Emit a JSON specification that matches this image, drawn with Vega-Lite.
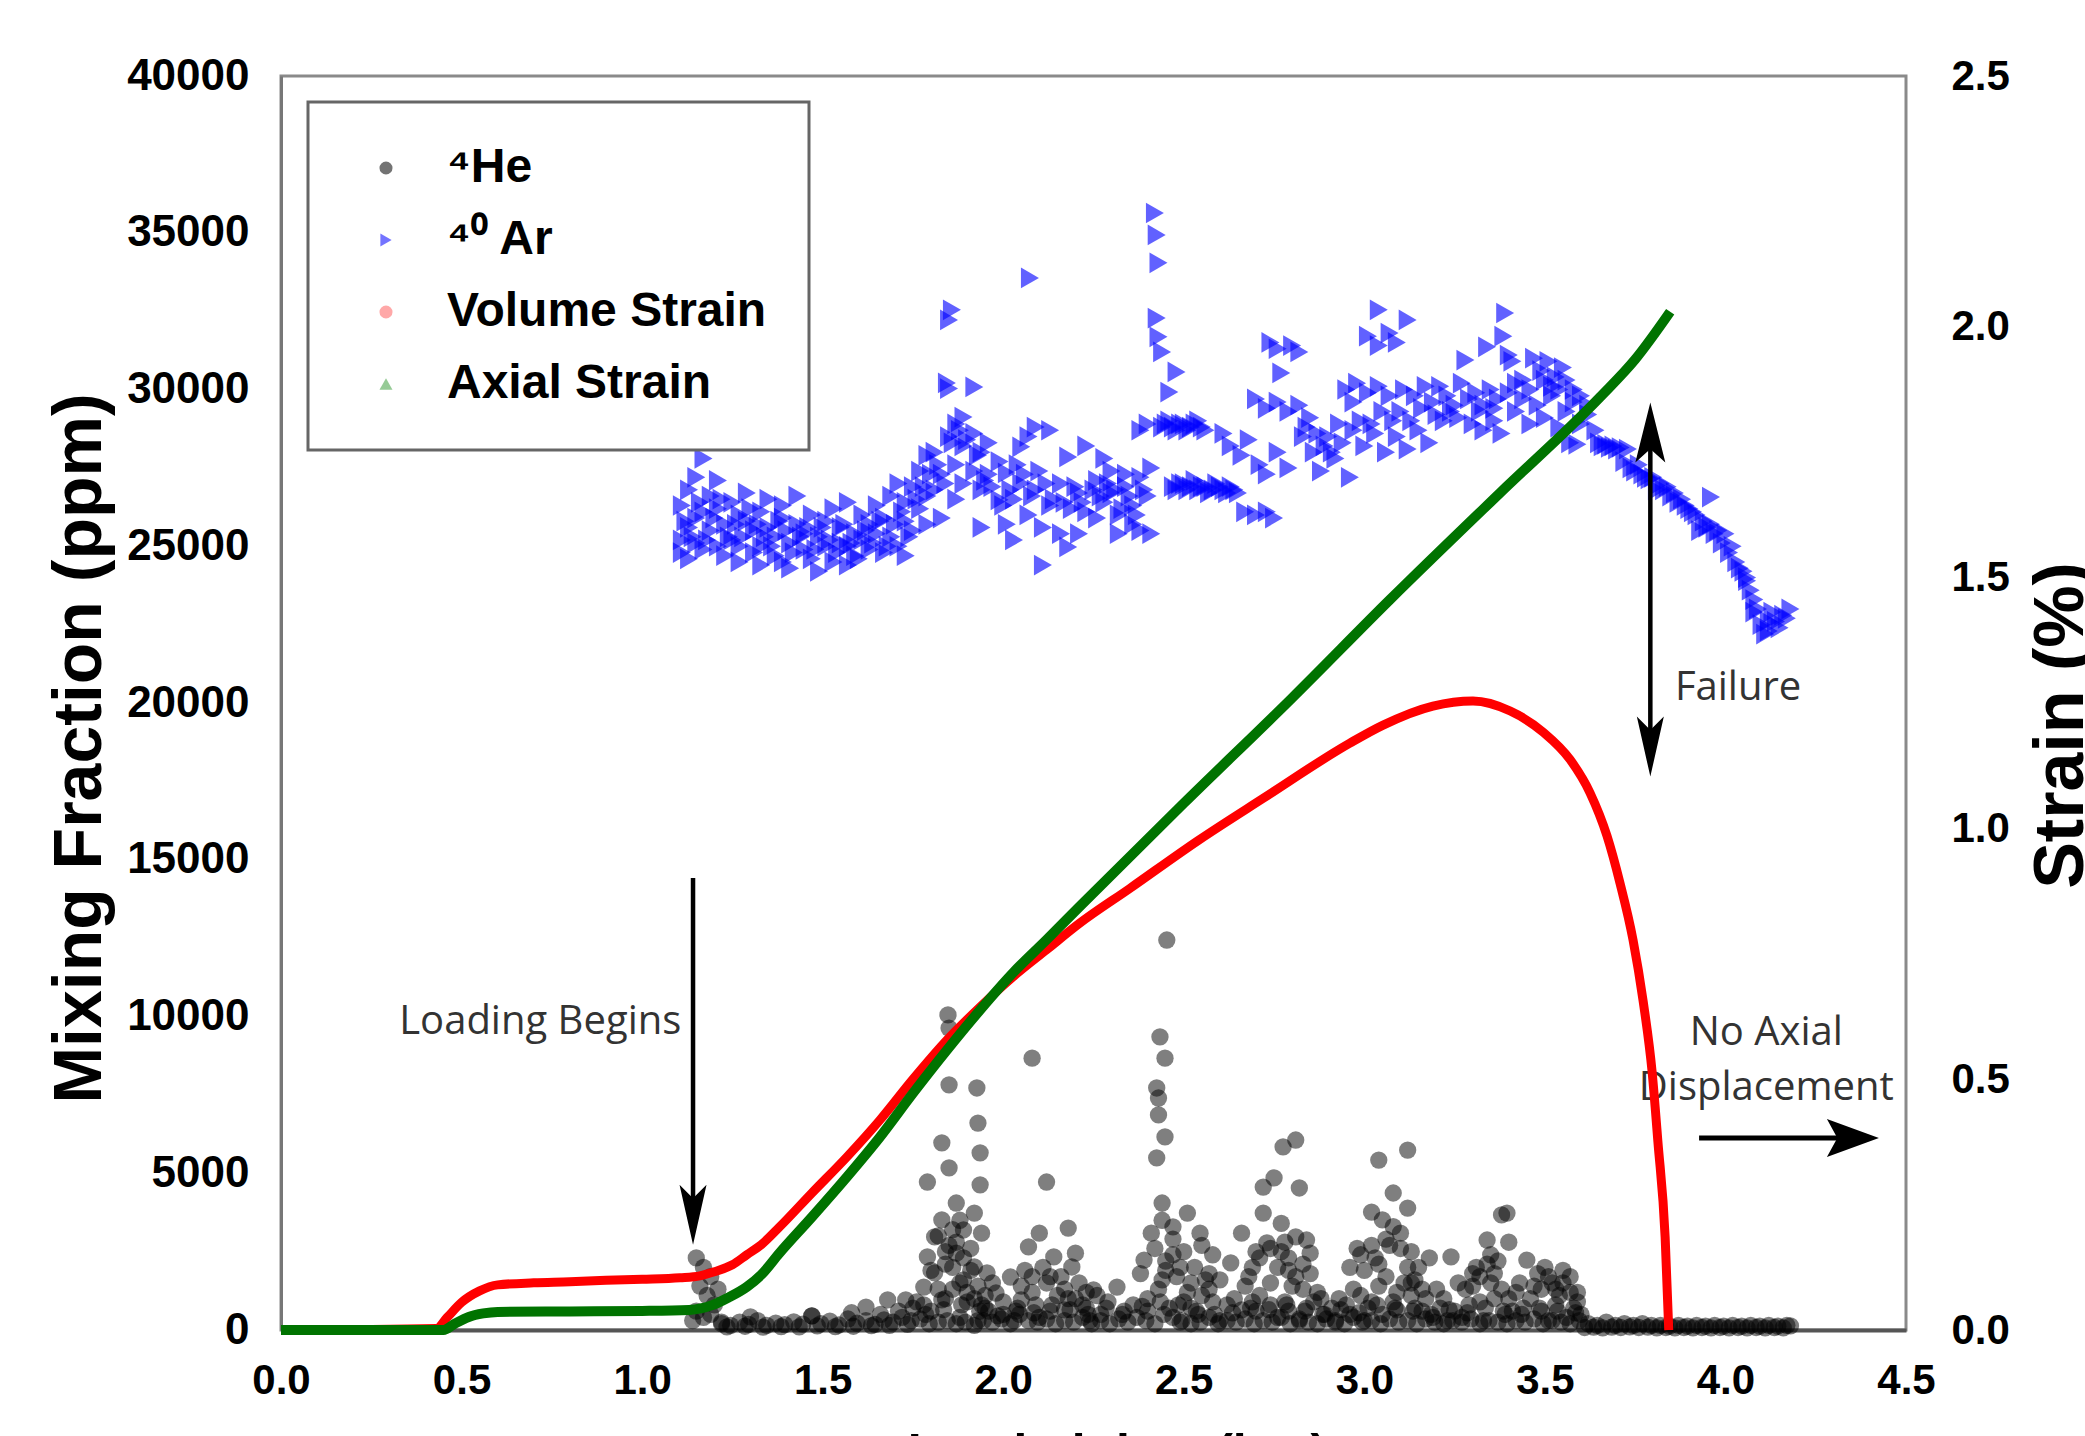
{
"$schema": "https://vega.github.io/schema/vega-lite/v6.json",
"width": 1625, "height": 1254,
"autosize": {"type": "none"},
"padding": {"left": 281, "top": 76, "right": 179, "bottom": 106},
"background": "white",
"config": {
  "view": {"stroke": "#8a8a8a", "strokeWidth": 3},
  "axisX": {"grid": false, "ticks": false, "domain": true, "domainColor": "#555555", "domainWidth": 4,
    "labelFont": "Liberation Sans, Arial", "labelFontWeight": "bold", "labelFontSize": 42, "labelColor": "black", "labelPadding": 30, "labelFlush": false, "labelOverlap": false,
    "titleFont": "Liberation Sans, Arial", "titleFontWeight": "bold", "titleFontSize": 50, "titleColor": "black", "titlePadding": 12},
  "legend": {
    "orient": "none", "legendX": 27, "legendY": 26,
    "labelFont": "Liberation Sans, Arial", "labelFontWeight": "bold", "labelFontSize": 48, "labelColor": "black",
    "symbolSize": 170, "symbolOpacity": 0.55, "symbolStrokeWidth": 0,
    "padding": 42, "rowPadding": 24, "symbolOffset": 12, "labelOffset": 37,
    "strokeColor": "#666666", "strokeWidth": 3, "fillColor": "white", "labelLimit": 600
  }
},
"datasets": {
"he": [
{"s":"He","t":1.15,"v":2300},{"s":"He","t":1.17,"v":2000},{"s":"He","t":1.19,"v":1700},{"s":"He","t":1.16,"v":1400},{"s":"He","t":1.18,"v":1100},{"s":"He","t":1.2,"v":800},{"s":"He","t":1.15,"v":600},{"s":"He","t":1.17,"v":400},{"s":"He","t":1.21,"v":1300},{"s":"He","t":1.19,"v":500},{"s":"He","t":1.22,"v":250},{"s":"He","t":1.14,"v":300},
{"s":"He","t":1.22,"v":200},{"s":"He","t":1.245,"v":150},{"s":"He","t":1.27,"v":250},{"s":"He","t":1.295,"v":180},{"s":"He","t":1.32,"v":300},{"s":"He","t":1.345,"v":150},{"s":"He","t":1.37,"v":220},{"s":"He","t":1.395,"v":170},{"s":"He","t":1.42,"v":260},{"s":"He","t":1.445,"v":190},{"s":"He","t":1.47,"v":450},{"s":"He","t":1.495,"v":200},{"s":"He","t":1.52,"v":280},{"s":"He","t":1.545,"v":160},{"s":"He","t":1.57,"v":350},{"s":"He","t":1.595,"v":220},{"s":"He","t":1.62,"v":300},{"s":"He","t":1.645,"v":180},{"s":"He","t":1.67,"v":320},{"s":"He","t":1.695,"v":250},{"s":"He","t":1.72,"v":400},{"s":"He","t":1.745,"v":300},{"s":"He","t":1.77,"v":350},{"s":"He","t":1.795,"v":200},{"s":"He","t":1.82,"v":250},{"s":"He","t":1.845,"v":300},{"s":"He","t":1.87,"v":200},{"s":"He","t":1.895,"v":250},{"s":"He","t":1.92,"v":150},{"s":"He","t":1.945,"v":300},{"s":"He","t":1.97,"v":250},{"s":"He","t":1.995,"v":350},{"s":"He","t":2.02,"v":200},{"s":"He","t":2.045,"v":500},{"s":"He","t":2.07,"v":300},{"s":"He","t":2.095,"v":250},{"s":"He","t":2.12,"v":350},{"s":"He","t":2.145,"v":200},{"s":"He","t":2.17,"v":300},{"s":"He","t":2.195,"v":250},{"s":"He","t":2.22,"v":400},{"s":"He","t":2.245,"v":200},{"s":"He","t":2.27,"v":300},{"s":"He","t":2.295,"v":200},{"s":"He","t":2.32,"v":350},{"s":"He","t":2.345,"v":250},{"s":"He","t":2.37,"v":400},{"s":"He","t":2.395,"v":300},{"s":"He","t":2.42,"v":200},{"s":"He","t":2.445,"v":500},{"s":"He","t":2.47,"v":400},{"s":"He","t":2.495,"v":300},{"s":"He","t":2.52,"v":200},{"s":"He","t":2.545,"v":250},{"s":"He","t":2.57,"v":400},{"s":"He","t":2.595,"v":200},{"s":"He","t":2.62,"v":300},{"s":"He","t":2.645,"v":250},{"s":"He","t":2.67,"v":350},{"s":"He","t":2.695,"v":200},{"s":"He","t":2.72,"v":300},{"s":"He","t":2.745,"v":250},{"s":"He","t":2.77,"v":400},{"s":"He","t":2.795,"v":200},{"s":"He","t":2.82,"v":300},{"s":"He","t":2.845,"v":250},{"s":"He","t":2.87,"v":200},{"s":"He","t":2.895,"v":350},{"s":"He","t":2.92,"v":250},{"s":"He","t":2.945,"v":200},{"s":"He","t":2.97,"v":400},{"s":"He","t":2.995,"v":250},{"s":"He","t":3.02,"v":300},{"s":"He","t":3.045,"v":200},{"s":"He","t":3.07,"v":350},{"s":"He","t":3.095,"v":250},{"s":"He","t":3.12,"v":300},{"s":"He","t":3.145,"v":200},{"s":"He","t":3.17,"v":350},{"s":"He","t":3.195,"v":250},{"s":"He","t":3.22,"v":200},{"s":"He","t":3.245,"v":300},{"s":"He","t":3.27,"v":250},{"s":"He","t":3.295,"v":350},{"s":"He","t":3.32,"v":200},{"s":"He","t":3.345,"v":300},{"s":"He","t":3.37,"v":250},{"s":"He","t":3.395,"v":200},{"s":"He","t":3.42,"v":300},{"s":"He","t":3.445,"v":250},{"s":"He","t":3.47,"v":350},{"s":"He","t":3.495,"v":200},{"s":"He","t":3.52,"v":300},{"s":"He","t":3.545,"v":250},{"s":"He","t":3.57,"v":200},{"s":"He","t":3.595,"v":300},{"s":"He","t":3.62,"v":200},{"s":"He","t":3.645,"v":150},{"s":"He","t":3.67,"v":250},{"s":"He","t":3.695,"v":150},{"s":"He","t":3.72,"v":200},{"s":"He","t":3.745,"v":150},{"s":"He","t":3.77,"v":200},{"s":"He","t":3.795,"v":150},{"s":"He","t":3.82,"v":150},{"s":"He","t":3.845,"v":120},{"s":"He","t":3.87,"v":150},{"s":"He","t":3.895,"v":120},{"s":"He","t":3.92,"v":150},{"s":"He","t":3.945,"v":120},{"s":"He","t":3.97,"v":150},{"s":"He","t":3.995,"v":120},{"s":"He","t":4.02,"v":150},{"s":"He","t":4.045,"v":120},{"s":"He","t":4.07,"v":150},{"s":"He","t":4.095,"v":120},{"s":"He","t":4.12,"v":150},{"s":"He","t":4.145,"v":120},{"s":"He","t":4.17,"v":150},{"s":"He","t":4.18,"v":130},
{"s":"He","t":1.235,"v":100},{"s":"He","t":1.285,"v":120},{"s":"He","t":1.335,"v":90},{"s":"He","t":1.385,"v":110},{"s":"He","t":1.435,"v":100},{"s":"He","t":1.485,"v":130},{"s":"He","t":1.535,"v":110},{"s":"He","t":1.585,"v":120},{"s":"He","t":1.635,"v":140},{"s":"He","t":1.685,"v":150},{"s":"He","t":1.735,"v":180},{"s":"He","t":1.785,"v":500},{"s":"He","t":1.835,"v":650},{"s":"He","t":1.885,"v":800},{"s":"He","t":1.935,"v":600},{"s":"He","t":1.985,"v":450},{"s":"He","t":2.035,"v":600},{"s":"He","t":2.085,"v":550},{"s":"He","t":2.135,"v":800},{"s":"He","t":2.185,"v":650},{"s":"He","t":2.235,"v":500},{"s":"He","t":2.285,"v":700},{"s":"He","t":2.335,"v":600},{"s":"He","t":2.385,"v":750},{"s":"He","t":2.435,"v":900},{"s":"He","t":2.485,"v":800},{"s":"He","t":2.535,"v":600},{"s":"He","t":2.585,"v":500},{"s":"He","t":2.635,"v":550},{"s":"He","t":2.685,"v":700},{"s":"He","t":2.735,"v":650},{"s":"He","t":2.785,"v":800},{"s":"He","t":2.835,"v":600},{"s":"He","t":2.885,"v":500},{"s":"He","t":2.935,"v":650},{"s":"He","t":2.985,"v":550},{"s":"He","t":3.035,"v":800},{"s":"He","t":3.085,"v":700},{"s":"He","t":3.135,"v":600},{"s":"He","t":3.185,"v":500},{"s":"He","t":3.235,"v":650},{"s":"He","t":3.285,"v":550},{"s":"He","t":3.335,"v":700},{"s":"He","t":3.385,"v":600},{"s":"He","t":3.435,"v":500},{"s":"He","t":3.485,"v":700},{"s":"He","t":3.535,"v":600},{"s":"He","t":3.585,"v":550},
{"s":"He","t":3.61,"v":80},{"s":"He","t":3.635,"v":90},{"s":"He","t":3.66,"v":70},{"s":"He","t":3.685,"v":90},{"s":"He","t":3.71,"v":80},{"s":"He","t":3.735,"v":100},{"s":"He","t":3.76,"v":80},{"s":"He","t":3.785,"v":90},{"s":"He","t":3.81,"v":70},{"s":"He","t":3.835,"v":80},{"s":"He","t":3.86,"v":70},{"s":"He","t":3.885,"v":80},{"s":"He","t":3.91,"v":70},{"s":"He","t":3.935,"v":80},{"s":"He","t":3.96,"v":70},{"s":"He","t":3.985,"v":80},{"s":"He","t":4.01,"v":70},{"s":"He","t":4.035,"v":80},{"s":"He","t":4.06,"v":70},{"s":"He","t":4.085,"v":80},{"s":"He","t":4.11,"v":70},{"s":"He","t":4.135,"v":80},{"s":"He","t":4.16,"v":70},
{"s":"He","t":1.30,"v":420},{"s":"He","t":1.47,"v":450},{"s":"He","t":1.58,"v":550},{"s":"He","t":1.62,"v":730},{"s":"He","t":1.68,"v":960},{"s":"He","t":1.73,"v":960},{"s":"He","t":1.66,"v":500},{"s":"He","t":1.71,"v":600},{"s":"He","t":1.75,"v":700},
{"s":"He","t":1.847,"v":10050},{"s":"He","t":1.85,"v":9630},{"s":"He","t":1.85,"v":7820},{"s":"He","t":1.927,"v":7720},{"s":"He","t":1.93,"v":6600},{"s":"He","t":1.83,"v":5970},{"s":"He","t":1.936,"v":5650},{"s":"He","t":1.85,"v":5170},{"s":"He","t":1.79,"v":4720},{"s":"He","t":1.936,"v":4630},{"s":"He","t":1.87,"v":4050},{"s":"He","t":1.92,"v":3730},{"s":"He","t":1.83,"v":3510},{"s":"He","t":1.89,"v":3190},{"s":"He","t":1.81,"v":2970},{"s":"He","t":1.94,"v":3090},{"s":"He","t":1.79,"v":2330},{"s":"He","t":1.87,"v":2450},{"s":"He","t":1.92,"v":2010},{"s":"He","t":1.81,"v":1820},{"s":"He","t":1.955,"v":1820},{"s":"He","t":1.89,"v":1600},{"s":"He","t":1.78,"v":1370},{"s":"He","t":1.83,"v":960},{"s":"He","t":1.98,"v":1180},{"s":"He","t":1.86,"v":1300},{"s":"He","t":1.90,"v":900},{"s":"He","t":1.95,"v":700},{"s":"He","t":1.80,"v":600},{"s":"He","t":1.88,"v":400},{"s":"He","t":1.93,"v":300},{"s":"He","t":1.85,"v":2700},{"s":"He","t":1.91,"v":2600},{"s":"He","t":1.84,"v":2100},{"s":"He","t":1.88,"v":3500},{"s":"He","t":1.97,"v":1500},{"s":"He","t":1.76,"v":900},
{"s":"He","t":1.82,"v":3000},{"s":"He","t":1.84,"v":2500},{"s":"He","t":1.86,"v":2000},{"s":"He","t":1.88,"v":1500},{"s":"He","t":1.90,"v":1200},{"s":"He","t":1.92,"v":1000},{"s":"He","t":1.94,"v":800},{"s":"He","t":1.86,"v":3200},{"s":"He","t":1.87,"v":2800},{"s":"He","t":1.89,"v":2300},{"s":"He","t":1.91,"v":1900},{"s":"He","t":1.93,"v":1400},{"s":"He","t":1.95,"v":1100},{"s":"He","t":1.82,"v":1300},{"s":"He","t":1.84,"v":1000},{"s":"He","t":1.80,"v":1900},{"s":"He","t":1.78,"v":800},
{"s":"He","t":2.08,"v":8670},{"s":"He","t":2.12,"v":4720},{"s":"He","t":2.18,"v":3250},{"s":"He","t":2.10,"v":3090},{"s":"He","t":2.07,"v":2650},{"s":"He","t":2.20,"v":2450},{"s":"He","t":2.14,"v":2330},{"s":"He","t":2.02,"v":1690},{"s":"He","t":2.12,"v":1500},{"s":"He","t":2.19,"v":2010},{"s":"He","t":2.25,"v":1280},{"s":"He","t":2.05,"v":960},{"s":"He","t":2.17,"v":640},{"s":"He","t":2.0,"v":500},{"s":"He","t":2.03,"v":300},{"s":"He","t":2.08,"v":1200},{"s":"He","t":2.15,"v":1100},{"s":"He","t":2.22,"v":800},{"s":"He","t":2.27,"v":500},{"s":"He","t":2.29,"v":900},{"s":"He","t":2.24,"v":300},{"s":"He","t":2.10,"v":400},{"s":"He","t":2.06,"v":1900},{"s":"He","t":2.16,"v":1700},{"s":"He","t":2.21,"v":1500},
{"s":"He","t":2.05,"v":1400},{"s":"He","t":2.08,"v":1700},{"s":"He","t":2.11,"v":2000},{"s":"He","t":2.13,"v":1700},{"s":"He","t":2.17,"v":1300},{"s":"He","t":2.20,"v":1000},{"s":"He","t":2.23,"v":1200},
{"s":"He","t":2.315,"v":1370},{"s":"He","t":2.39,"v":2230},{"s":"He","t":2.38,"v":1800},{"s":"He","t":2.40,"v":1000},
{"s":"He","t":2.453,"v":12440},{"s":"He","t":2.434,"v":9350},{"s":"He","t":2.448,"v":8670},{"s":"He","t":2.425,"v":7720},{"s":"He","t":2.43,"v":7400},{"s":"He","t":2.43,"v":6860},{"s":"He","t":2.448,"v":6160},{"s":"He","t":2.425,"v":5490},{"s":"He","t":2.44,"v":4050},{"s":"He","t":2.51,"v":3730},{"s":"He","t":2.41,"v":3090},{"s":"He","t":2.47,"v":3290},
{"s":"He","t":2.44,"v":3500},{"s":"He","t":2.47,"v":2900},{"s":"He","t":2.50,"v":2500},{"s":"He","t":2.45,"v":2200},{"s":"He","t":2.53,"v":2000},{"s":"He","t":2.48,"v":1700},{"s":"He","t":2.56,"v":1600},{"s":"He","t":2.51,"v":1200},{"s":"He","t":2.43,"v":1300},{"s":"He","t":2.58,"v":900},{"s":"He","t":2.46,"v":700},{"s":"He","t":2.54,"v":500},{"s":"He","t":2.60,"v":300},{"s":"He","t":2.49,"v":250},{"s":"He","t":2.55,"v":2700},{"s":"He","t":2.58,"v":2400},{"s":"He","t":2.42,"v":2600},{"s":"He","t":2.545,"v":3090},{"s":"He","t":2.63,"v":2140},{"s":"He","t":2.60,"v":1600},
{"s":"He","t":2.45,"v":1900},{"s":"He","t":2.47,"v":2400},{"s":"He","t":2.49,"v":2000},{"s":"He","t":2.52,"v":1500},{"s":"He","t":2.55,"v":1100},{"s":"He","t":2.57,"v":1800},{"s":"He","t":2.50,"v":900},{"s":"He","t":2.44,"v":1600},
{"s":"He","t":2.775,"v":5840},{"s":"He","t":2.81,"v":6060},{"s":"He","t":2.75,"v":4850},{"s":"He","t":2.72,"v":4560},{"s":"He","t":2.82,"v":4530},{"s":"He","t":2.72,"v":3730},{"s":"He","t":2.66,"v":3090},{"s":"He","t":2.73,"v":2780},{"s":"He","t":2.81,"v":2970},{"s":"He","t":2.77,"v":3400},{"s":"He","t":2.70,"v":2500},{"s":"He","t":2.79,"v":2300},{"s":"He","t":2.76,"v":2000},{"s":"He","t":2.83,"v":2100},{"s":"He","t":2.68,"v":1700},{"s":"He","t":2.74,"v":1500},{"s":"He","t":2.80,"v":1400},{"s":"He","t":2.85,"v":1800},{"s":"He","t":2.87,"v":1200},{"s":"He","t":2.71,"v":1100},{"s":"He","t":2.78,"v":900},{"s":"He","t":2.84,"v":700},{"s":"He","t":2.89,"v":500},{"s":"He","t":2.92,"v":300},{"s":"He","t":2.76,"v":400},{"s":"He","t":2.70,"v":600},{"s":"He","t":2.82,"v":350},{"s":"He","t":2.88,"v":1000},{"s":"He","t":2.64,"v":1000},{"s":"He","t":2.84,"v":2870},{"s":"He","t":2.85,"v":2450},{"s":"He","t":2.66,"v":640},
{"s":"He","t":2.69,"v":2000},{"s":"He","t":2.71,"v":2300},{"s":"He","t":2.74,"v":2600},{"s":"He","t":2.77,"v":2500},{"s":"He","t":2.79,"v":1900},{"s":"He","t":2.81,"v":1700},{"s":"He","t":2.83,"v":1300},{"s":"He","t":2.78,"v":2800},
{"s":"He","t":3.04,"v":5420},{"s":"He","t":3.12,"v":5740},{"s":"He","t":3.08,"v":4370},{"s":"He","t":3.02,"v":3760},{"s":"He","t":3.12,"v":3890},{"s":"He","t":3.05,"v":3510},{"s":"He","t":3.10,"v":3090},{"s":"He","t":2.98,"v":2600},{"s":"He","t":3.03,"v":2300},{"s":"He","t":3.07,"v":2700},{"s":"He","t":3.13,"v":2500},{"s":"He","t":3.15,"v":2000},{"s":"He","t":3.00,"v":1900},{"s":"He","t":3.06,"v":1700},{"s":"He","t":3.11,"v":1500},{"s":"He","t":2.97,"v":1300},{"s":"He","t":3.09,"v":1200},{"s":"He","t":3.17,"v":1000},{"s":"He","t":3.02,"v":900},{"s":"He","t":3.14,"v":700},{"s":"He","t":3.05,"v":500},{"s":"He","t":3.19,"v":400},{"s":"He","t":3.00,"v":300},{"s":"He","t":3.20,"v":1300},{"s":"He","t":3.18,"v":2300},{"s":"He","t":2.95,"v":800},{"s":"He","t":2.99,"v":1100},{"s":"He","t":3.13,"v":1500},{"s":"He","t":3.09,"v":640},
{"s":"He","t":2.96,"v":2000},{"s":"He","t":2.99,"v":2400},{"s":"He","t":3.02,"v":2700},{"s":"He","t":3.04,"v":2100},{"s":"He","t":3.06,"v":2900},{"s":"He","t":3.08,"v":3300},{"s":"He","t":3.10,"v":2600},{"s":"He","t":3.12,"v":2000},{"s":"He","t":3.14,"v":1600},{"s":"He","t":3.16,"v":1300},{"s":"He","t":3.04,"v":1400},
{"s":"He","t":3.24,"v":2330},{"s":"He","t":3.34,"v":2870},{"s":"He","t":3.38,"v":3670},{"s":"He","t":3.395,"v":3730},{"s":"He","t":3.40,"v":2800},{"s":"He","t":3.22,"v":1000},{"s":"He","t":3.25,"v":600},{"s":"He","t":3.28,"v":1300},{"s":"He","t":3.30,"v":1800},{"s":"He","t":3.32,"v":900},{"s":"He","t":3.35,"v":1500},{"s":"He","t":3.37,"v":2200},{"s":"He","t":3.42,"v":1200},{"s":"He","t":3.44,"v":700},{"s":"He","t":3.27,"v":400},{"s":"He","t":3.33,"v":300},{"s":"He","t":3.39,"v":500},{"s":"He","t":3.23,"v":300},{"s":"He","t":3.26,"v":1500},{"s":"He","t":3.31,"v":2000},
{"s":"He","t":3.30,"v":1400},{"s":"He","t":3.32,"v":1700},{"s":"He","t":3.34,"v":2100},{"s":"He","t":3.36,"v":1800},{"s":"He","t":3.38,"v":1300},{"s":"He","t":3.40,"v":1000},{"s":"He","t":3.35,"v":2400},
{"s":"He","t":3.45,"v":2230},{"s":"He","t":3.48,"v":1800},{"s":"He","t":3.50,"v":2000},{"s":"He","t":3.52,"v":1500},{"s":"He","t":3.55,"v":1900},{"s":"He","t":3.57,"v":1200},{"s":"He","t":3.46,"v":1000},{"s":"He","t":3.49,"v":600},{"s":"He","t":3.53,"v":800},{"s":"He","t":3.56,"v":400},{"s":"He","t":3.58,"v":700},{"s":"He","t":3.51,"v":300},{"s":"He","t":3.54,"v":1100},{"s":"He","t":3.47,"v":1400},
{"s":"He","t":3.49,"v":1300},{"s":"He","t":3.51,"v":1700},{"s":"He","t":3.53,"v":1300},{"s":"He","t":3.55,"v":1500},{"s":"He","t":3.57,"v":1700},{"s":"He","t":3.59,"v":1200},
{"s":"He","t":1.96,"v":600},{"s":"He","t":2.0,"v":900},{"s":"He","t":2.04,"v":700},{"s":"He","t":2.09,"v":800},{"s":"He","t":2.13,"v":600},{"s":"He","t":2.18,"v":1000},{"s":"He","t":2.23,"v":700},{"s":"He","t":2.26,"v":1100},{"s":"He","t":2.33,"v":500},{"s":"He","t":2.36,"v":800},{"s":"He","t":2.40,"v":600},{"s":"He","t":2.52,"v":700},{"s":"He","t":2.57,"v":1300},{"s":"He","t":2.62,"v":800},{"s":"He","t":2.67,"v":1400},{"s":"He","t":2.69,"v":900},{"s":"He","t":2.74,"v":800},{"s":"He","t":2.79,"v":600},{"s":"He","t":2.86,"v":900},{"s":"He","t":2.91,"v":700},{"s":"He","t":2.93,"v":1000},{"s":"He","t":2.96,"v":500},{"s":"He","t":3.01,"v":700},{"s":"He","t":3.08,"v":900},{"s":"He","t":3.13,"v":1100},{"s":"He","t":3.16,"v":600},{"s":"He","t":3.21,"v":700},{"s":"He","t":3.29,"v":800},{"s":"He","t":3.36,"v":1000},{"s":"He","t":3.41,"v":600},{"s":"He","t":3.43,"v":1500},{"s":"He","t":3.60,"v":500},{"s":"He","t":3.59,"v":900}
],
"ar": [
{"s":"Ar","t":1.11,"v":25200},{"s":"Ar","t":1.11,"v":26300},{"s":"Ar","t":1.11,"v":24800},{"s":"Ar","t":1.13,"v":26800},{"s":"Ar","t":1.13,"v":25600},{"s":"Ar","t":1.13,"v":24600},{"s":"Ar","t":1.15,"v":25900},{"s":"Ar","t":1.15,"v":27200},{"s":"Ar","t":1.15,"v":25100},{"s":"Ar","t":1.17,"v":27800},{"s":"Ar","t":1.17,"v":26100},{"s":"Ar","t":1.17,"v":24900},{"s":"Ar","t":1.19,"v":25500},{"s":"Ar","t":1.19,"v":26600},{"s":"Ar","t":1.21,"v":26200},{"s":"Ar","t":1.21,"v":25000},{"s":"Ar","t":1.21,"v":27100},{"s":"Ar","t":1.23,"v":25700},{"s":"Ar","t":1.23,"v":24700},{"s":"Ar","t":1.25,"v":26400},{"s":"Ar","t":1.25,"v":25200},{"s":"Ar","t":1.27,"v":25000},{"s":"Ar","t":1.27,"v":26000},{"s":"Ar","t":1.27,"v":24500},{"s":"Ar","t":1.29,"v":25800},{"s":"Ar","t":1.29,"v":26700},{"s":"Ar","t":1.31,"v":24800},{"s":"Ar","t":1.31,"v":25500},{"s":"Ar","t":1.33,"v":26100},{"s":"Ar","t":1.33,"v":25000},{"s":"Ar","t":1.33,"v":24400},{"s":"Ar","t":1.35,"v":25600},{"s":"Ar","t":1.35,"v":26500},{"s":"Ar","t":1.37,"v":24700},{"s":"Ar","t":1.37,"v":25300},{"s":"Ar","t":1.39,"v":25900},{"s":"Ar","t":1.39,"v":24500},{"s":"Ar","t":1.39,"v":26300},{"s":"Ar","t":1.41,"v":25100},{"s":"Ar","t":1.41,"v":24300},{"s":"Ar","t":1.43,"v":25700},{"s":"Ar","t":1.43,"v":26600},{"s":"Ar","t":1.45,"v":24900},{"s":"Ar","t":1.45,"v":25400},{"s":"Ar","t":1.47,"v":24600},{"s":"Ar","t":1.47,"v":26000},{"s":"Ar","t":1.49,"v":25300},{"s":"Ar","t":1.49,"v":24200},{"s":"Ar","t":1.51,"v":25800},{"s":"Ar","t":1.51,"v":25000},{"s":"Ar","t":1.53,"v":24500},{"s":"Ar","t":1.53,"v":26200},{"s":"Ar","t":1.55,"v":25100},{"s":"Ar","t":1.55,"v":25600},{"s":"Ar","t":1.57,"v":24400},{"s":"Ar","t":1.57,"v":26400},{"s":"Ar","t":1.57,"v":25000},{"s":"Ar","t":1.59,"v":25400},{"s":"Ar","t":1.59,"v":24700},{"s":"Ar","t":1.61,"v":26000},{"s":"Ar","t":1.61,"v":25200},{"s":"Ar","t":1.63,"v":24900},{"s":"Ar","t":1.63,"v":25700},{"s":"Ar","t":1.65,"v":25400},{"s":"Ar","t":1.65,"v":26300},{"s":"Ar","t":1.67,"v":24800},{"s":"Ar","t":1.67,"v":25900},{"s":"Ar","t":1.69,"v":26600},{"s":"Ar","t":1.69,"v":25300},{"s":"Ar","t":1.71,"v":25000},{"s":"Ar","t":1.71,"v":27000},{"s":"Ar","t":1.73,"v":25800},{"s":"Ar","t":1.73,"v":26400},{"s":"Ar","t":1.73,"v":24700},{"s":"Ar","t":1.75,"v":26900},{"s":"Ar","t":1.75,"v":25500},{"s":"Ar","t":1.77,"v":27400},{"s":"Ar","t":1.77,"v":26200},{"s":"Ar","t":1.79,"v":25700},{"s":"Ar","t":1.79,"v":27900},{"s":"Ar","t":1.79,"v":26600},{"s":"Ar","t":1.81,"v":26800},{"s":"Ar","t":1.81,"v":28000},{"s":"Ar","t":1.83,"v":27300},{"s":"Ar","t":1.83,"v":25900},
{"s":"Ar","t":1.12,"v":25800},{"s":"Ar","t":1.14,"v":25300},{"s":"Ar","t":1.16,"v":26400},{"s":"Ar","t":1.18,"v":25200},{"s":"Ar","t":1.20,"v":25900},{"s":"Ar","t":1.22,"v":26500},{"s":"Ar","t":1.24,"v":25300},{"s":"Ar","t":1.26,"v":25700},{"s":"Ar","t":1.28,"v":25300},{"s":"Ar","t":1.30,"v":26200},{"s":"Ar","t":1.32,"v":25700},{"s":"Ar","t":1.34,"v":25300},{"s":"Ar","t":1.36,"v":25000},{"s":"Ar","t":1.38,"v":25800},{"s":"Ar","t":1.40,"v":25500},{"s":"Ar","t":1.42,"v":24800},{"s":"Ar","t":1.44,"v":25300},{"s":"Ar","t":1.46,"v":25600},{"s":"Ar","t":1.48,"v":24900},{"s":"Ar","t":1.50,"v":25600},{"s":"Ar","t":1.52,"v":25200},{"s":"Ar","t":1.54,"v":24800},{"s":"Ar","t":1.56,"v":25700},{"s":"Ar","t":1.58,"v":25100},{"s":"Ar","t":1.60,"v":24600},{"s":"Ar","t":1.62,"v":25500},{"s":"Ar","t":1.64,"v":25100},{"s":"Ar","t":1.66,"v":25800},{"s":"Ar","t":1.68,"v":25000},{"s":"Ar","t":1.70,"v":25700},{"s":"Ar","t":1.72,"v":26100},{"s":"Ar","t":1.74,"v":25300},{"s":"Ar","t":1.76,"v":26500},{"s":"Ar","t":1.78,"v":26900},{"s":"Ar","t":1.80,"v":27300},{"s":"Ar","t":1.82,"v":27600},{"s":"Ar","t":1.84,"v":27000},
{"s":"Ar","t":1.85,"v":30030},{"s":"Ar","t":1.85,"v":32220},{"s":"Ar","t":1.858,"v":32540},{"s":"Ar","t":1.844,"v":30210},{"s":"Ar","t":1.85,"v":28500},{"s":"Ar","t":1.87,"v":28900},{"s":"Ar","t":1.87,"v":27600},{"s":"Ar","t":1.87,"v":26500},{"s":"Ar","t":1.89,"v":29120},{"s":"Ar","t":1.89,"v":28200},{"s":"Ar","t":1.89,"v":27000},{"s":"Ar","t":1.92,"v":30080},{"s":"Ar","t":1.92,"v":28600},{"s":"Ar","t":1.92,"v":27400},{"s":"Ar","t":1.94,"v":28000},{"s":"Ar","t":1.94,"v":26800},{"s":"Ar","t":1.94,"v":25600},{"s":"Ar","t":1.96,"v":27300},{"s":"Ar","t":1.96,"v":28300},{"s":"Ar","t":1.99,"v":26480},{"s":"Ar","t":1.99,"v":27700},{"s":"Ar","t":2.01,"v":27340},{"s":"Ar","t":2.01,"v":25700},{"s":"Ar","t":2.03,"v":25200},{"s":"Ar","t":2.03,"v":26500},{"s":"Ar","t":2.05,"v":28170},{"s":"Ar","t":2.05,"v":27000},{"s":"Ar","t":2.07,"v":28500},{"s":"Ar","t":2.07,"v":26000},{"s":"Ar","t":2.074,"v":33560},{"s":"Ar","t":2.09,"v":26800},{"s":"Ar","t":2.09,"v":28800},{"s":"Ar","t":2.10,"v":27400},{"s":"Ar","t":2.11,"v":24400},{"s":"Ar","t":2.11,"v":25600},{"s":"Ar","t":2.13,"v":28700},{"s":"Ar","t":2.13,"v":26300},{"s":"Ar","t":2.16,"v":27000},{"s":"Ar","t":2.16,"v":25400},{"s":"Ar","t":2.18,"v":24980},{"s":"Ar","t":2.18,"v":27850},{"s":"Ar","t":2.19,"v":26200},{"s":"Ar","t":2.21,"v":26700},{"s":"Ar","t":2.21,"v":25400},{"s":"Ar","t":2.23,"v":28200},{"s":"Ar","t":2.23,"v":26100},{"s":"Ar","t":2.26,"v":27100},{"s":"Ar","t":2.26,"v":25900},{"s":"Ar","t":2.28,"v":26400},{"s":"Ar","t":2.28,"v":27800},{"s":"Ar","t":2.30,"v":27400},{"s":"Ar","t":2.30,"v":26700},{"s":"Ar","t":2.32,"v":26000},{"s":"Ar","t":2.32,"v":25400},{"s":"Ar","t":2.34,"v":26900},{"s":"Ar","t":2.34,"v":27300},{"s":"Ar","t":2.36,"v":25700},{"s":"Ar","t":2.36,"v":26300},{"s":"Ar","t":2.38,"v":28700},{"s":"Ar","t":2.38,"v":27200},{"s":"Ar","t":2.38,"v":25500},{"s":"Ar","t":2.40,"v":28900},{"s":"Ar","t":2.40,"v":26600},{"s":"Ar","t":2.41,"v":25400},{"s":"Ar","t":2.41,"v":27500},
{"s":"Ar","t":1.86,"v":28300},{"s":"Ar","t":1.88,"v":28700},{"s":"Ar","t":1.90,"v":28400},{"s":"Ar","t":1.93,"v":27900},{"s":"Ar","t":1.95,"v":27100},{"s":"Ar","t":1.97,"v":26900},{"s":"Ar","t":2.00,"v":26300},{"s":"Ar","t":2.02,"v":26800},{"s":"Ar","t":2.04,"v":27600},{"s":"Ar","t":2.06,"v":27300},{"s":"Ar","t":2.08,"v":26600},{"s":"Ar","t":2.12,"v":27000},{"s":"Ar","t":2.14,"v":26500},{"s":"Ar","t":2.17,"v":26400},{"s":"Ar","t":2.20,"v":26900},{"s":"Ar","t":2.22,"v":26400},{"s":"Ar","t":2.25,"v":26800},{"s":"Ar","t":2.27,"v":26600},{"s":"Ar","t":2.29,"v":27000},{"s":"Ar","t":2.31,"v":26800},{"s":"Ar","t":2.33,"v":26200},{"s":"Ar","t":2.35,"v":26600},{"s":"Ar","t":2.37,"v":26000},{"s":"Ar","t":2.39,"v":26800},
{"s":"Ar","t":2.42,"v":35630},{"s":"Ar","t":2.425,"v":34930},{"s":"Ar","t":2.43,"v":34040},{"s":"Ar","t":2.425,"v":32280},{"s":"Ar","t":2.43,"v":31680},{"s":"Ar","t":2.44,"v":31200},{"s":"Ar","t":2.48,"v":30560},{"s":"Ar","t":2.46,"v":29920},
{"s":"Ar","t":2.44,"v":28800},{"s":"Ar","t":2.46,"v":29000},{"s":"Ar","t":2.48,"v":28700},{"s":"Ar","t":2.50,"v":28900},{"s":"Ar","t":2.52,"v":28800},{"s":"Ar","t":2.54,"v":29000},{"s":"Ar","t":2.56,"v":28700},
{"s":"Ar","t":2.45,"v":28900},{"s":"Ar","t":2.47,"v":28800},{"s":"Ar","t":2.49,"v":28900},{"s":"Ar","t":2.51,"v":28700},{"s":"Ar","t":2.53,"v":28900},{"s":"Ar","t":2.55,"v":28800},
{"s":"Ar","t":2.47,"v":26900},{"s":"Ar","t":2.49,"v":27000},{"s":"Ar","t":2.51,"v":26800},{"s":"Ar","t":2.53,"v":27100},{"s":"Ar","t":2.55,"v":26900},{"s":"Ar","t":2.57,"v":26700},{"s":"Ar","t":2.59,"v":27000},{"s":"Ar","t":2.61,"v":26800},{"s":"Ar","t":2.63,"v":26900},{"s":"Ar","t":2.65,"v":26700},
{"s":"Ar","t":2.48,"v":26800},{"s":"Ar","t":2.50,"v":27000},{"s":"Ar","t":2.52,"v":26900},{"s":"Ar","t":2.54,"v":26800},{"s":"Ar","t":2.56,"v":26900},{"s":"Ar","t":2.58,"v":26800},{"s":"Ar","t":2.60,"v":26900},{"s":"Ar","t":2.62,"v":26700},{"s":"Ar","t":2.64,"v":26800},
{"s":"Ar","t":2.67,"v":26100},{"s":"Ar","t":2.70,"v":26000},{"s":"Ar","t":2.73,"v":26100},{"s":"Ar","t":2.75,"v":25900},
{"s":"Ar","t":2.61,"v":28600},{"s":"Ar","t":2.63,"v":28200},{"s":"Ar","t":2.66,"v":27900},{"s":"Ar","t":2.68,"v":28400},{"s":"Ar","t":2.71,"v":27600},{"s":"Ar","t":2.73,"v":27300},{"s":"Ar","t":2.76,"v":28000},{"s":"Ar","t":2.79,"v":27500},
{"s":"Ar","t":2.70,"v":29700},{"s":"Ar","t":2.73,"v":29400},{"s":"Ar","t":2.76,"v":29600},{"s":"Ar","t":2.79,"v":29300},{"s":"Ar","t":2.82,"v":29500},
{"s":"Ar","t":2.74,"v":31500},{"s":"Ar","t":2.76,"v":31300},{"s":"Ar","t":2.80,"v":31400},{"s":"Ar","t":2.82,"v":31200},{"s":"Ar","t":2.77,"v":30530},
{"s":"Ar","t":2.84,"v":28800},{"s":"Ar","t":2.86,"v":28000},{"s":"Ar","t":2.88,"v":27400},{"s":"Ar","t":2.90,"v":28500},{"s":"Ar","t":2.92,"v":27800},{"s":"Ar","t":2.94,"v":28300},{"s":"Ar","t":2.96,"v":27200},{"s":"Ar","t":2.85,"v":29100},{"s":"Ar","t":2.89,"v":28200},
{"s":"Ar","t":2.95,"v":30000},{"s":"Ar","t":2.98,"v":30200},{"s":"Ar","t":3.01,"v":29900},{"s":"Ar","t":3.04,"v":30100},{"s":"Ar","t":3.07,"v":29800},
{"s":"Ar","t":3.04,"v":32540},{"s":"Ar","t":3.12,"v":32220},
{"s":"Ar","t":3.01,"v":31700},{"s":"Ar","t":3.04,"v":31400},{"s":"Ar","t":3.07,"v":31800},{"s":"Ar","t":3.09,"v":31500},
{"s":"Ar","t":2.97,"v":28700},{"s":"Ar","t":3.00,"v":28200},{"s":"Ar","t":3.03,"v":28600},{"s":"Ar","t":3.06,"v":28000},{"s":"Ar","t":3.09,"v":28500},{"s":"Ar","t":3.12,"v":28100},{"s":"Ar","t":3.15,"v":28700},{"s":"Ar","t":3.18,"v":28300},
{"s":"Ar","t":3.11,"v":30000},{"s":"Ar","t":3.14,"v":29800},{"s":"Ar","t":3.17,"v":30100},
{"s":"Ar","t":3.19,"v":29600},{"s":"Ar","t":3.21,"v":30100},{"s":"Ar","t":3.23,"v":29800},{"s":"Ar","t":3.25,"v":29500},{"s":"Ar","t":3.27,"v":30200},{"s":"Ar","t":3.29,"v":29700},{"s":"Ar","t":3.31,"v":29900},{"s":"Ar","t":3.33,"v":29500},{"s":"Ar","t":3.35,"v":30000},{"s":"Ar","t":3.37,"v":29700},
{"s":"Ar","t":2.83,"v":28500},{"s":"Ar","t":2.87,"v":28600},{"s":"Ar","t":2.91,"v":28000},{"s":"Ar","t":2.93,"v":28900},{"s":"Ar","t":2.97,"v":29600},{"s":"Ar","t":2.99,"v":29000},{"s":"Ar","t":3.02,"v":28900},{"s":"Ar","t":3.05,"v":29300},{"s":"Ar","t":3.08,"v":29000},{"s":"Ar","t":3.10,"v":29300},{"s":"Ar","t":3.13,"v":29000},{"s":"Ar","t":3.16,"v":29400},{"s":"Ar","t":3.20,"v":29200},{"s":"Ar","t":3.22,"v":29000},{"s":"Ar","t":3.24,"v":29300},{"s":"Ar","t":3.26,"v":29100},{"s":"Ar","t":3.32,"v":29300},{"s":"Ar","t":3.36,"v":29400},{"s":"Ar","t":3.42,"v":30200},{"s":"Ar","t":3.44,"v":30300},{"s":"Ar","t":3.46,"v":30000},{"s":"Ar","t":3.50,"v":30300},{"s":"Ar","t":3.52,"v":30100},{"s":"Ar","t":3.54,"v":30000},{"s":"Ar","t":3.58,"v":30000},{"s":"Ar","t":3.60,"v":29800},{"s":"Ar","t":3.62,"v":29500},
{"s":"Ar","t":3.28,"v":30940},{"s":"Ar","t":3.34,"v":31360},
{"s":"Ar","t":3.30,"v":28900},{"s":"Ar","t":3.33,"v":28700},{"s":"Ar","t":3.36,"v":29000},{"s":"Ar","t":3.38,"v":28600},
{"s":"Ar","t":3.39,"v":32440},{"s":"Ar","t":3.385,"v":31700},{"s":"Ar","t":3.40,"v":31100},{"s":"Ar","t":3.41,"v":30900},
{"s":"Ar","t":3.47,"v":31000},{"s":"Ar","t":3.49,"v":30600},{"s":"Ar","t":3.51,"v":30900},{"s":"Ar","t":3.53,"v":30400},{"s":"Ar","t":3.55,"v":30700},{"s":"Ar","t":3.56,"v":30300},
{"s":"Ar","t":3.40,"v":29900},{"s":"Ar","t":3.42,"v":29300},{"s":"Ar","t":3.44,"v":29700},{"s":"Ar","t":3.46,"v":28900},{"s":"Ar","t":3.48,"v":29500},{"s":"Ar","t":3.50,"v":29100},{"s":"Ar","t":3.52,"v":29800},{"s":"Ar","t":3.54,"v":28800},{"s":"Ar","t":3.56,"v":29300},{"s":"Ar","t":3.58,"v":29600},{"s":"Ar","t":3.60,"v":28900},{"s":"Ar","t":3.62,"v":29200},{"s":"Ar","t":3.64,"v":28700},
{"s":"Ar","t":3.57,"v":28300},{"s":"Ar","t":3.59,"v":28250},
{"s":"Ar","t":3.65,"v":28300},{"s":"Ar","t":3.67,"v":28250},{"s":"Ar","t":3.69,"v":28200},{"s":"Ar","t":3.71,"v":28150},{"s":"Ar","t":3.73,"v":28100},
{"s":"Ar","t":3.66,"v":28200},{"s":"Ar","t":3.68,"v":28150},{"s":"Ar","t":3.70,"v":28100},
{"s":"Ar","t":3.72,"v":27700},{"s":"Ar","t":3.74,"v":27500},{"s":"Ar","t":3.76,"v":27600},{"s":"Ar","t":3.77,"v":27300},{"s":"Ar","t":3.79,"v":27150},{"s":"Ar","t":3.75,"v":27400},{"s":"Ar","t":3.78,"v":27200},
{"s":"Ar","t":3.80,"v":27200},{"s":"Ar","t":3.81,"v":26800},{"s":"Ar","t":3.82,"v":27000},{"s":"Ar","t":3.84,"v":26900},{"s":"Ar","t":3.86,"v":26700},{"s":"Ar","t":3.88,"v":26500},{"s":"Ar","t":3.83,"v":26800},{"s":"Ar","t":3.85,"v":26600},{"s":"Ar","t":3.87,"v":26400},{"s":"Ar","t":3.89,"v":26300},
{"s":"Ar","t":3.90,"v":26200},{"s":"Ar","t":3.92,"v":26000},{"s":"Ar","t":3.93,"v":25500},{"s":"Ar","t":3.94,"v":25800},{"s":"Ar","t":3.96,"v":25700},{"s":"Ar","t":3.96,"v":26570},{"s":"Ar","t":3.98,"v":25500},{"s":"Ar","t":4.00,"v":25400},{"s":"Ar","t":3.91,"v":26100},{"s":"Ar","t":3.95,"v":25600},{"s":"Ar","t":3.97,"v":25400},
{"s":"Ar","t":3.99,"v":25100},{"s":"Ar","t":4.01,"v":24800},{"s":"Ar","t":4.02,"v":25000},{"s":"Ar","t":4.03,"v":24500},{"s":"Ar","t":4.05,"v":24200},{"s":"Ar","t":4.04,"v":24300},
{"s":"Ar","t":4.06,"v":23900},{"s":"Ar","t":4.07,"v":23600},{"s":"Ar","t":4.08,"v":23300},{"s":"Ar","t":4.06,"v":24000},{"s":"Ar","t":4.09,"v":23000},
{"s":"Ar","t":4.08,"v":22900},{"s":"Ar","t":4.10,"v":22500},{"s":"Ar","t":4.11,"v":22200},{"s":"Ar","t":4.12,"v":22300},{"s":"Ar","t":4.13,"v":22900},{"s":"Ar","t":4.14,"v":22600},{"s":"Ar","t":4.16,"v":22800},{"s":"Ar","t":4.18,"v":23000},{"s":"Ar","t":4.15,"v":22400},{"s":"Ar","t":4.17,"v":22700},{"s":"Ar","t":4.12,"v":22600}
],
"vol": [
{"t":0,"s":0},{"t":0.43,"s":0.003},{"t":0.46,"s":0.025},{"t":0.5,"s":0.055},{"t":0.55,"s":0.078},{"t":0.6,"s":0.09},{"t":0.7,"s":0.094},{"t":0.8,"s":0.096},{"t":0.9,"s":0.099},{"t":1.0,"s":0.101},{"t":1.105,"s":0.104},{"t":1.16,"s":0.108},{"t":1.2,"s":0.116},{"t":1.25,"s":0.13},{"t":1.29,"s":0.15},{"t":1.33,"s":0.17},{"t":1.38,"s":0.205},{"t":1.47,"s":0.273},{"t":1.567,"s":0.345},{"t":1.659,"s":0.419},{"t":1.75,"s":0.5},{"t":1.844,"s":0.578},{"t":1.936,"s":0.644},{"t":2.027,"s":0.704},{"t":2.12,"s":0.758},{"t":2.21,"s":0.81},{"t":2.35,"s":0.88},{"t":2.54,"s":0.976},{"t":2.72,"s":1.06},{"t":2.96,"s":1.17},{"t":3.052,"s":1.206},{"t":3.19,"s":1.244},{"t":3.301,"s":1.254},{"t":3.404,"s":1.234},{"t":3.495,"s":1.192},{"t":3.57,"s":1.137},{"t":3.625,"s":1.071},{"t":3.672,"s":0.985},{"t":3.708,"s":0.891},{"t":3.744,"s":0.778},{"t":3.772,"s":0.656},{"t":3.797,"s":0.514},{"t":3.813,"s":0.375},{"t":3.833,"s":0.185},{"t":3.843,"s":0.0}
],
"ax": [
{"t":0,"s":0},{"t":0.45,"s":0},{"t":0.48,"s":0.012},{"t":0.52,"s":0.026},{"t":0.56,"s":0.033},{"t":0.6,"s":0.036},{"t":0.8,"s":0.037},{"t":1.0,"s":0.038},{"t":1.13,"s":0.04},{"t":1.196,"s":0.05},{"t":1.24,"s":0.065},{"t":1.29,"s":0.086},{"t":1.33,"s":0.11},{"t":1.38,"s":0.153},{"t":1.47,"s":0.225},{"t":1.567,"s":0.305},{"t":1.659,"s":0.385},{"t":1.75,"s":0.472},{"t":1.844,"s":0.558},{"t":1.936,"s":0.638},{"t":2.027,"s":0.712},{"t":2.12,"s":0.778},{"t":2.21,"s":0.843},{"t":2.5,"s":1.05},{"t":2.8,"s":1.26},{"t":3.071,"s":1.456},{"t":3.376,"s":1.669},{"t":3.653,"s":1.86},{"t":3.75,"s":1.935},{"t":3.847,"s":2.03}
],
"notes": [
{"t":0.718,"v":9840,"label":"Loading Begins"},
{"t":4.035,"v":20490,"label":"Failure"},
{"t":4.113,"v":9460,"label":"No Axial"},
{"t":4.113,"v":7720,"label":"Displacement"}
],
"vr": [{"t":1.141,"v":14420,"v2":3680},{"t":3.792,"v":28630,"v2":18610}],
"hr": [{"t":3.927,"t2":4.353,"v":6125}],
"hdown": [{"t":1.141,"v":3680},{"t":3.792,"v":18610}],
"hup": [{"t":3.792,"v":28630}],
"hright": [{"t":4.353,"v":6125}]
},
"resolve": {"scale": {"y": "independent"}, "axis": {"y": "independent"}},
"layer": [
  {"data": {"name": "he"},
   "mark": {"type": "point", "filled": true, "opacity": 0.5, "size": 300, "strokeWidth": 0},
   "encoding": {
     "x": {"field": "t", "type": "quantitative", "title": "Loaded time (hrs)", "scale": {"domain": [0, 4.5], "nice": false, "zero": false},
       "axis": {"title": "Loaded time (hrs)", "values": [0,0.5,1,1.5,2,2.5,3,3.5,4,4.5], "format": ".1f", "titleX": 836, "titleY": 138, "titleAlign": "center", "titleBaseline": "alphabetic"}},
     "y": {"field": "v", "type": "quantitative", "scale": {"domain": [0, 40000], "nice": false, "zero": false},
       "axis": {"orient": "left", "title": "Mixing Fraction (ppm)", "values": [0,5000,10000,15000,20000,25000,30000,35000,40000], "format": "d", "grid": false, "ticks": false,
         "domain": true, "domainColor": "#777777", "domainWidth": 3,
         "labelFont": "Liberation Sans, Arial", "labelFontWeight": "bold", "labelFontSize": 44, "labelColor": "black", "labelPadding": 32, "labelFlush": false, "labelOverlap": false, "labelBaseline": "middle",
         "titleFont": "Liberation Sans, Arial", "titleFontWeight": "bold", "titleFontSize": 68, "titleColor": "black",
         "titleAngle": 270, "titleX": -181, "titleY": 672, "titleAlign": "center", "titleBaseline": "alphabetic"}},
     "color": {"field": "s", "type": "nominal",
       "scale": {"domain": ["He", "Ar", "Vol", "Ax"], "range": ["#000000", "#0000ff", "#ff6060", "#40a040"]},
       "legend": {"title": null, "labelExpr": "datum.label == 'He' ? '⁴He' : datum.label == 'Ar' ? '⁴⁰ Ar' : datum.label == 'Vol' ? 'Volume Strain' : 'Axial Strain'"}},
     "shape": {"field": "s", "type": "nominal",
       "scale": {"domain": ["He", "Ar", "Vol", "Ax"], "range": ["circle", "triangle-right", "circle", "triangle-up"]},
       "legend": {"title": null, "labelExpr": "datum.label == 'He' ? '⁴He' : datum.label == 'Ar' ? '⁴⁰ Ar' : datum.label == 'Vol' ? 'Volume Strain' : 'Axial Strain'"}}
   }},
  {"data": {"name": "ar"},
   "mark": {"type": "point", "filled": true, "opacity": 0.62, "size": 430, "strokeWidth": 0},
   "encoding": {
     "x": {"field": "t", "type": "quantitative"},
     "y": {"field": "v", "type": "quantitative", "scale": {"domain": [0, 40000], "nice": false, "zero": false}, "axis": null},
     "color": {"field": "s", "type": "nominal", "legend": {"title": null, "labelExpr": "datum.label == 'He' ? '⁴He' : datum.label == 'Ar' ? '⁴⁰ Ar' : datum.label == 'Vol' ? 'Volume Strain' : 'Axial Strain'"}},
     "shape": {"field": "s", "type": "nominal", "legend": {"title": null, "labelExpr": "datum.label == 'He' ? '⁴He' : datum.label == 'Ar' ? '⁴⁰ Ar' : datum.label == 'Vol' ? 'Volume Strain' : 'Axial Strain'"}}
   }},
  {"data": {"name": "notes"},
   "mark": {"type": "text", "font": "Open Sans", "fontSize": 40, "color": "#333333", "align": "center", "baseline": "middle"},
   "encoding": {"x": {"field": "t", "type": "quantitative"}, "y": {"field": "v", "type": "quantitative", "scale": {"domain": [0, 40000], "nice": false, "zero": false}, "axis": null}, "text": {"field": "label"}}},
  {"data": {"name": "vr"},
   "mark": {"type": "rule", "color": "black", "strokeWidth": 4.5},
   "encoding": {"x": {"field": "t", "type": "quantitative"}, "y": {"field": "v", "type": "quantitative", "scale": {"domain": [0, 40000], "nice": false, "zero": false}, "axis": null}, "y2": {"field": "v2"}}},
  {"data": {"name": "hr"},
   "mark": {"type": "rule", "color": "black", "strokeWidth": 5},
   "encoding": {"x": {"field": "t", "type": "quantitative"}, "x2": {"field": "t2"}, "y": {"field": "v", "type": "quantitative", "scale": {"domain": [0, 40000], "nice": false, "zero": false}, "axis": null}}},
  {"data": {"name": "hdown"},
   "mark": {"type": "point", "filled": true, "color": "black", "opacity": 1, "strokeWidth": 0, "size": 3600, "shape": "M0,1 L-0.45,-1 L0,-0.55 L0.45,-1 Z"},
   "encoding": {"x": {"field": "t", "type": "quantitative"}, "y": {"field": "v", "type": "quantitative", "scale": {"domain": [0, 40000], "nice": false, "zero": false}, "axis": null}}},
  {"data": {"name": "hup"},
   "mark": {"type": "point", "filled": true, "color": "black", "opacity": 1, "strokeWidth": 0, "size": 3600, "shape": "M0,-1 L-0.5,1 L0,0.55 L0.5,1 Z"},
   "encoding": {"x": {"field": "t", "type": "quantitative"}, "y": {"field": "v", "type": "quantitative", "scale": {"domain": [0, 40000], "nice": false, "zero": false}, "axis": null}}},
  {"data": {"name": "hright"},
   "mark": {"type": "point", "filled": true, "color": "black", "opacity": 1, "strokeWidth": 0, "size": 2704, "shape": "M1,0 L-1,-0.73 L-0.6,0 L-1,0.73 Z"},
   "encoding": {"x": {"field": "t", "type": "quantitative"}, "y": {"field": "v", "type": "quantitative", "scale": {"domain": [0, 40000], "nice": false, "zero": false}, "axis": null}}},
  {"data": {"name": "vol"},
   "mark": {"type": "line", "color": "#ff0000", "strokeWidth": 9, "interpolate": "monotone"},
   "encoding": {
     "x": {"field": "t", "type": "quantitative"},
     "y": {"field": "s", "type": "quantitative", "scale": {"domain": [0, 2.5], "nice": false, "zero": false},
       "axis": {"orient": "right", "title": "Strain (%)", "values": [0,0.5,1,1.5,2,2.5], "format": ".1f", "grid": false, "ticks": false, "domain": false,
         "labelFont": "Liberation Sans, Arial", "labelFontWeight": "bold", "labelFontSize": 42, "labelColor": "black", "labelPadding": 45, "labelFlush": false, "labelOverlap": false, "labelBaseline": "middle",
         "titleFont": "Liberation Sans, Arial", "titleFontWeight": "bold", "titleFontSize": 70, "titleColor": "black",
         "titleAngle": 270, "titleX": 176, "titleY": 649, "titleAlign": "center", "titleBaseline": "alphabetic"}}
   }},
  {"data": {"name": "ax"},
   "mark": {"type": "line", "color": "#007300", "strokeWidth": 10, "interpolate": "monotone"},
   "encoding": {
     "x": {"field": "t", "type": "quantitative"},
     "y": {"field": "s", "type": "quantitative", "scale": {"domain": [0, 2.5], "nice": false, "zero": false}, "axis": null}
   }}
]
}
